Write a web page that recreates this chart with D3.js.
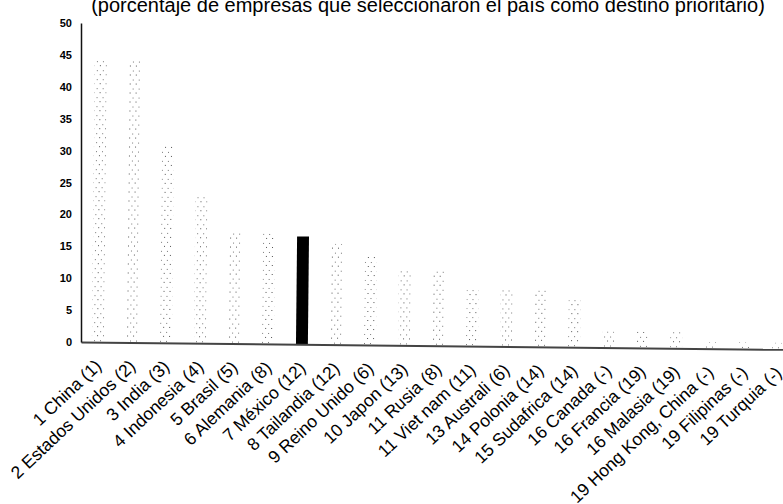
<!DOCTYPE html>
<html>
<head>
<meta charset="utf-8">
<script src="https://cdn.jsdelivr.net/npm/d3@7"></script>
<style>
  body { margin: 0; background: #fff; }
  svg { display: block; }
</style>
</head>
<body>
<svg class="chart"></svg>
<script>
var W = 783, H = 504;

var countries = ["1 China (1)", "2 Estados Unidos (2)", "3 India (3)", "4 Indonesia (4)",
  "5 Brasil (5)", "6 Alemania (8)", "7 México (12)", "8 Tailandia (12)", "9 Reino Unido (6)",
  "10 Japon (13)", "11 Rusia (8)", "11 Viet nam (11)", "13 Australi (6)", "14 Polonia (14)",
  "15 Sudafrica (14)", "16 Canada (-)", "16 Francia (19)", "16 Malasia (19)",
  "19 Hong Kong, China (-)", "19 Filipinas (-)", "19 Turquia (-)"];
var shares = [44.2, 44.3, 31, 23.3, 17.4, 17.4, 16.9, 15.8, 14, 12, 12, 9.2, 9.1, 9.1, 7.7,
  2.5, 2.5, 2.5, 1, 1, 1];
var highlight = "7 México (12)";
var yTicks = [0, 5, 10, 15, 20, 25, 30, 35, 40, 45, 50];
var title = "(porcentaje de empresas que seleccionaron el país como destino prioritario)";

var data = countries.map(function(c, i) { return {name: c, value: shares[i]}; });

var svg = d3.select(".chart")
    .attr("width", W)
    .attr("height", H);

// sparse speckle fill, like the faded bars of the scan
var pat = svg.append("defs").append("pattern")
    .attr("id", "speckle")
    .attr("patternUnits", "userSpaceOnUse")
    .attr("width", 6)
    .attr("height", 9);
pat.append("rect").attr("x", 1).attr("y", 2).attr("width", 1).attr("height", 1).attr("fill", "#555");
pat.append("rect").attr("x", 4).attr("y", 7).attr("width", 1).attr("height", 1).attr("fill", "#777");

var x = d3.scaleBand()
    .domain(countries)
    .range([81, 795])
    .paddingInner(0.65)
    .paddingOuter(0.32);

var y = d3.scaleLinear()
    .domain([0, 50])
    .range([342, 23]);

svg.append("text")
    .attr("x", 428)
    .attr("y", 12)
    .attr("text-anchor", "middle")
    .style("font", "20px 'Liberation Sans', Arial, sans-serif")
    .text(title);

// the scan is a little tilted: bars and x axis dip slightly to the right
var plot = svg.append("g")
    .attr("transform", "rotate(0.6,81," + y(0) + ")");

plot.selectAll(".bar")
    .data(data)
    .enter().append("rect")
      .attr("class", "bar")
      .attr("x", function(d) { return x(d.name); })
      .attr("y", function(d) { return y(d.value); })
      .attr("width", x.bandwidth())
      .attr("height", function(d) { return y(0) - y(d.value); })
      .attr("fill", function(d) { return d.name === highlight ? "#000" : "url(#speckle)"; });

var xAxis = d3.axisBottom(x).tickSize(0).tickPadding(0);

var gx = plot.append("g")
    .attr("transform", "translate(0," + y(0) + ")")
    .call(xAxis);
gx.select(".domain").attr("stroke", "#444").attr("stroke-width", 2);
gx.selectAll("text")
    .attr("y", 0)
    .attr("dy", 0)
    .attr("transform", "translate(5,25) rotate(-44)")
    .style("text-anchor", "end")
    .style("font", "17.5px 'Liberation Sans', Arial, sans-serif")
    .attr("fill", "#000");

var yAxis = d3.axisLeft(y)
    .tickValues(yTicks)
    .tickSize(0)
    .tickPadding(9);

var gy = svg.append("g")
    .attr("transform", "translate(81,0)")
    .call(yAxis);
gy.select(".domain").attr("stroke", "#111").attr("stroke-width", 1.5);
gy.selectAll("text")
    .style("font", "bold 11px 'Liberation Sans', Arial, sans-serif")
    .attr("fill", "#000");
</script>
</body>
</html>
